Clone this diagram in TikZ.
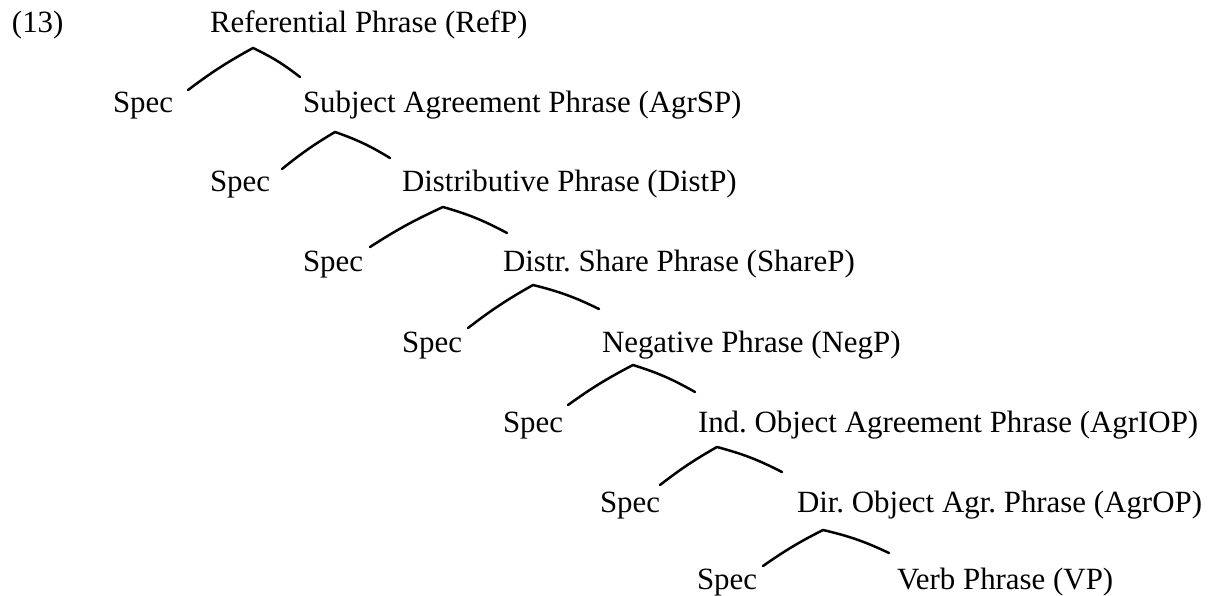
\documentclass[tikz,border=0pt]{standalone}
\usepackage{fontspec}
\setmainfont{Liberation Serif}
\usetikzlibrary{calc}
\frenchspacing
\begin{document}
\begin{tikzpicture}[x=1pt,y=-1pt,
  lbl/.style={anchor=base west,inner sep=0pt,outer sep=0pt,font=\fontsize{30.9}{36}\selectfont},
  branch/.style={line width=2.5pt,line cap=round,line join=round}]
\useasboundingbox[fill=white] (0,0) rectangle (1216,596);
\node[lbl] (num) at (12,33) {(13)};
\node[lbl] (p0) at (210,33) {Referential Phrase (RefP)};
\node[lbl] (s1) at (113,113) {Spec};
\node[lbl] (p1) at (303,113) {Subject Agreement Phrase (AgrSP)};
\node[lbl] (s2) at (210,192) {Spec};
\node[lbl] (p2) at (402,192) {Distributive Phrase (DistP)};
\node[lbl] (s3) at (303,272) {Spec};
\node[lbl] (p3) at (503,272) {Distr. Share Phrase (ShareP)};
\node[lbl] (s4) at (402,352) {Spec};
\node[lbl] (p4) at (602,352) {Negative Phrase (NegP)};
\node[lbl] (s5) at (503,432) {Spec};
\node[lbl] (p5) at (698,432) {Ind. Object Agreement Phrase (AgrIOP)};
\node[lbl] (s6) at (600,512) {Spec};
\node[lbl] (p6) at (797,512) {Dir. Object Agr. Phrase (AgrOP)};
\node[lbl] (s7) at (697,589) {Spec};
\node[lbl] (p7) at (897,589) {Verb Phrase (VP)};
% row 0
\coordinate (a0) at ($(p0.base west)+(43,15)$);
\coordinate (l0) at ($(s1.base west)+(75,-23)$);
\coordinate (r0) at ($(p1.base west)+(-3,-36)$);
% row 1
\coordinate (a1) at ($(p1.base west)+(32,19)$);
\coordinate (l1) at ($(s2.base west)+(72,-23)$);
\coordinate (r1) at ($(p2.base west)+(-12,-34)$);
% row 2
\coordinate (a2) at ($(p2.base west)+(41,15)$);
\coordinate (l2) at ($(s3.base west)+(67,-25)$);
\coordinate (r2) at ($(p3.base west)+(4,-39)$);
% row 3
\coordinate (a3) at ($(p3.base west)+(30,13)$);
\coordinate (l3) at ($(s4.base west)+(66,-24)$);
\coordinate (r3) at ($(p4.base west)+(-3,-43)$);
% row 4
\coordinate (a4) at ($(p4.base west)+(31,13)$);
\coordinate (l4) at ($(s5.base west)+(65,-27)$);
\coordinate (r4) at ($(p5.base west)+(-3,-40)$);
% row 5
\coordinate (a5) at ($(p5.base west)+(19,15)$);
\coordinate (l5) at ($(s6.base west)+(60,-27)$);
\coordinate (r5) at ($(p6.base west)+(-15,-40)$);
% row 6
\coordinate (a6) at ($(p6.base west)+(26,18)$);
\coordinate (l6) at ($(s7.base west)+(66,-23)$);
\coordinate (r6) at ($(p7.base west)+(-8,-36)$);
\foreach \i in {0,...,6}{
  \draw[branch] (l\i) to[bend left=4] (a\i) to[bend left=6] (r\i);
}
\end{tikzpicture}
\end{document}
